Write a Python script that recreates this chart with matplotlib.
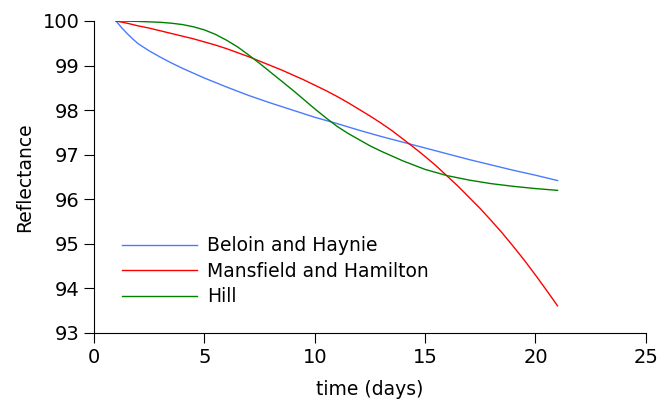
import matplotlib
matplotlib.use('Agg')
import matplotlib.pyplot as plt

# tempo em dias (cada modelo tem sua propria amostragem)
days_beloin = [1, 1.25, 1.5, 1.75, 2, 2.5, 3, 3.5, 4, 5, 6, 7, 8, 9, 10, 11,
               12, 13, 14, 15, 16, 17, 18, 19, 20, 21]
beloin = [100.0, 99.85, 99.72, 99.6, 99.49, 99.33, 99.19, 99.06, 98.94, 98.72,
          98.52, 98.33, 98.16, 98.0, 97.84, 97.7, 97.55, 97.41, 97.28, 97.15,
          97.02, 96.89, 96.77, 96.65, 96.54, 96.42]

days_mansfield = [1, 1.5, 2, 2.5, 3, 3.5, 4, 4.5, 5, 5.5, 6, 6.5, 7, 7.5, 8,
                  8.5, 9, 9.5, 10, 10.5, 11, 11.5, 12, 12.5, 13, 13.5, 14,
                  14.5, 15, 15.5, 16, 16.5, 17, 17.5, 18, 18.5, 19, 19.5, 20,
                  20.5, 21]
mansfield = [100.0, 99.95, 99.89, 99.84, 99.78, 99.72, 99.66, 99.6, 99.53,
             99.46, 99.38, 99.29, 99.2, 99.1, 99.0, 98.9, 98.79, 98.68, 98.56,
             98.44, 98.31, 98.17, 98.02, 97.87, 97.71, 97.54, 97.35, 97.16,
             96.96, 96.75, 96.52, 96.29, 96.04, 95.79, 95.52, 95.24, 94.94,
             94.63, 94.3, 93.96, 93.61]

days_hill = [1, 2, 3, 3.5, 4, 4.5, 5, 5.5, 6, 6.5, 7, 7.5, 8, 8.5, 9, 9.5, 10,
             10.5, 11, 11.5, 12, 12.5, 13, 13.5, 14, 15, 16, 17, 18, 19, 20, 21]
hill = [100.0, 99.99, 99.97, 99.95, 99.92, 99.87, 99.8, 99.7, 99.57, 99.42,
        99.24, 99.05, 98.85, 98.65, 98.45, 98.24, 98.03, 97.83, 97.64, 97.48,
        97.34, 97.2, 97.08, 96.97, 96.86, 96.67, 96.53, 96.43, 96.35, 96.29,
        96.24, 96.2]

labels = ['Beloin and Haynie', 'Mansfield and Hamilton', 'Hill']
colors = ['#4a7bff', '#ff0000', '#008000']

fig = plt.figure(figsize=(6.57, 4.03), dpi=100)
ax = fig.add_axes([0.143, 0.1737, 0.840, 0.7743])

series = [(days_beloin, beloin), (days_mansfield, mansfield), (days_hill, hill)]
for (x, y), lab, cor in zip(series, labels, colors):
    ax.plot(x, y, color=cor, linewidth=1.0, label=lab)

ax.set_xlim(0, 25)
ax.set_ylim(93, 100)
ax.set_xticks([0, 5, 10, 15, 20, 25])
ax.set_yticks([93, 94, 95, 96, 97, 98, 99, 100])
ax.tick_params(direction='out', length=7, labelsize=14)
ax.spines['top'].set_visible(False)
ax.spines['right'].set_visible(False)

ax.set_xlabel('time (days)', fontsize=13.5, labelpad=10)
ax.set_ylabel('Reflectance', fontsize=13.5, labelpad=6)

ax.legend(loc='upper left', bbox_to_anchor=(0.05, 0.31), frameon=False,
          fontsize=13.5, handlelength=4.05, handletextpad=0.53,
          borderpad=0, borderaxespad=0, labelspacing=0.35)

fig.savefig('out.png', dpi=100)
